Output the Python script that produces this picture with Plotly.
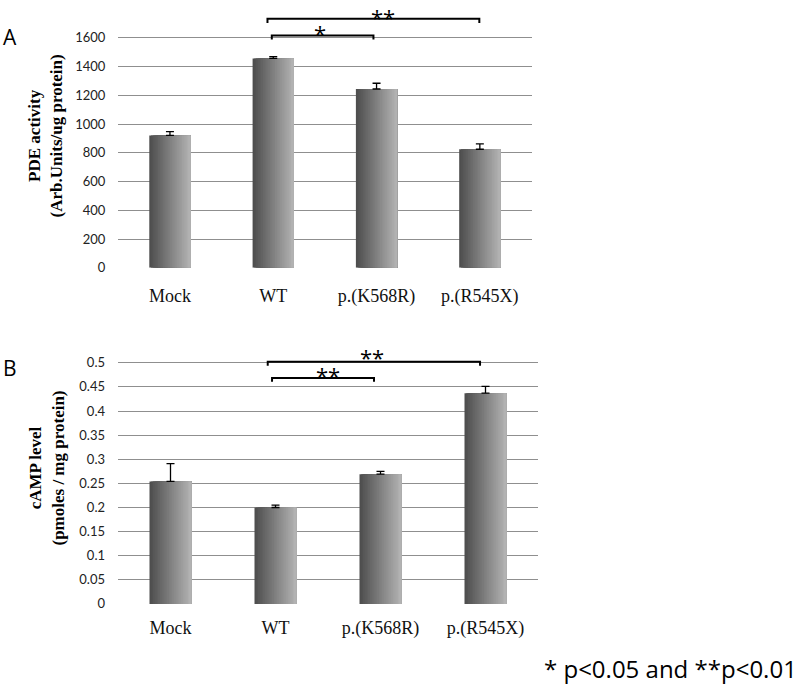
import plotly.graph_objects as go

# ---------------- data ----------------
categories = ["Mock", "WT", "p.(K568R)", "p.(R545X)"]

pde_activity = [921, 1457, 1244, 825]
pde_error = [27, 12, 40, 38]

camp_level = [0.254, 0.200, 0.269, 0.437]
camp_error = [0.037, 0.005, 0.006, 0.014]

pde_ticks = [0, 200, 400, 600, 800, 1000, 1200, 1400, 1600]
camp_ticks = [0, 0.05, 0.1, 0.15, 0.2, 0.25, 0.3, 0.35, 0.4, 0.45, 0.5]

# significance brackets: (from index, to index, label)
pde_sig = [(1, 2, "*"), (1, 3, "**")]
camp_sig = [(1, 2, "**"), (1, 3, "**")]

# ---------------- layout helpers ----------------
W, H = 800, 692


def py(pix):
    return (H - pix) / H


def px(pix):
    return pix / W


fig = go.Figure()

BAR_W = 0.4
N_STRIPES = 24
dark = (78, 78, 78)
light = (178, 178, 178)


def mix(t):
    return "rgb(%d,%d,%d)" % tuple(round(dark[k] + (light[k] - dark[k]) * t) for k in range(3))


def add_bars(values, errors, xa, ya):
    xs = list(range(len(categories)))
    step = BAR_W / N_STRIPES
    for i in range(N_STRIPES):
        start = -BAR_W / 2 + i * step
        fig.add_trace(go.Bar(
            x=xs, y=values, xaxis=xa, yaxis=ya,
            width=BAR_W / 2 - start, offset=start,
            marker=dict(color=mix(i / (N_STRIPES - 1)), line=dict(width=0)),
            showlegend=False, hoverinfo="skip"))
    fig.add_trace(go.Scatter(
        x=xs, y=values, xaxis=xa, yaxis=ya, mode="markers",
        marker=dict(size=1, color="rgba(0,0,0,0)"),
        error_y=dict(type="data", array=errors, arrayminus=[0] * len(errors),
                     symmetric=False, color="black", thickness=1.3, width=4),
        showlegend=False, hoverinfo="skip"))


add_bars(pde_activity, pde_error, "x", "y")
add_bars(camp_level, camp_error, "x2", "y2")

axis_font = dict(family="Lato, Open Sans, sans-serif", size=13, color="#222")
cat_font = dict(family="Liberation Serif, Times New Roman, serif", size=18, color="#111")
grid_col = "#8f8f8f"

common_x = dict(type="linear", range=[-0.5, 3.5], tickvals=list(range(4)),
                ticktext=categories, tickfont=cat_font, showgrid=False,
                zeroline=False, showline=False, ticks="", fixedrange=True)

fig.update_layout(
    width=W, height=H, margin=dict(l=0, r=0, t=0, b=0),
    paper_bgcolor="white", plot_bgcolor="white",
    barmode="overlay", showlegend=False,
    xaxis=dict(common_x, domain=[px(118.3), px(531.5)], anchor="y", ticklabelstandoff=15),
    yaxis=dict(range=[0, 1800], domain=[py(271), py(9.2)], anchor="x",
               tickvals=pde_ticks, tickfont=axis_font, showgrid=True,
               gridcolor=grid_col, gridwidth=1, zeroline=False, showline=False,
               ticks="", ticklabelstandoff=12, fixedrange=True),
    xaxis2=dict(common_x, domain=[px(118), px(538)], anchor="y2", ticklabelstandoff=11),
    yaxis2=dict(range=[0, 0.53], domain=[py(611), py(352.4)], anchor="x2",
                tickvals=camp_ticks, tickformat="", tickfont=axis_font, showgrid=True,
                gridcolor=grid_col, gridwidth=1, zeroline=False, showline=False,
                ticks="", ticklabelstandoff=12, fixedrange=True),
)

star_font = dict(family="Open Sans, sans-serif", size=22, color="black")


def add_brackets(specs, xa, ya, levels, tick, labels_pos, xshift_list):
    for (a, b, lab), lvl, (tref, tl, anc), (xa0, xb0, tx) in zip(specs, levels, labels_pos, xshift_list):
        x0, x1 = a + xa0, b + xb0
        path = "M %f,%f L %f,%f L %f,%f L %f,%f" % (x0, lvl - tick, x0, lvl, x1, lvl, x1, lvl - tick)
        fig.add_shape(type="path", path=path, xref=xa, yref=ya,
                      line=dict(color="black", width=2))
        fig.add_annotation(x=a + tx, y=tl, xref=xa, yref=tref if tref else ya, text=lab,
                           showarrow=False, font=star_font, yanchor=anc, xanchor="center")


# Panel A brackets
add_brackets(pde_sig, "x", "y",
             levels=[1617, 1732], tick=28,
             labels_pos=[(None, 1633, "middle"), ("paper", 1.0, "top")],
             xshift_list=[(-0.014, -0.03, 0.45), (-0.056, -0.005, 1.06)])
# Panel B brackets
add_brackets(camp_sig, "x2", "y2",
             levels=[0.4686, 0.502], tick=0.008,
             labels_pos=[(None, 0.4745, "middle"), (None, 0.5115, "middle")],
             xshift_list=[(-0.033, -0.062, 0.50), (-0.074, -0.052, 0.92)])

# y-axis titles
title_font = dict(family="Liberation Serif, Times New Roman, serif", size=17, color="black")
fig.add_annotation(x=px(45), y=py(138), xref="paper", yref="paper", textangle=-90,
                   text="<b>PDE activity</b><br><b>(Arb.Units/ug protein)</b>",
                   showarrow=False, font=title_font, xanchor="center", yanchor="middle")
fig.add_annotation(x=px(47), y=py(474), xref="paper", yref="paper", textangle=-90,
                   text="<b>cAMP level</b><br><b>(pmoles / mg protein)</b>",
                   showarrow=False, font=title_font, xanchor="center", yanchor="middle")

# panel letters
letter_font = dict(family="Open Sans, sans-serif", size=21, color="black")
fig.add_annotation(x=px(1), y=py(37), xref="paper", yref="paper", text="A",
                   showarrow=False, font=letter_font, xanchor="left", yanchor="middle")
fig.add_annotation(x=px(1), y=py(372), xref="paper", yref="paper", text="B",
                   showarrow=False, font=letter_font, xanchor="left", yanchor="middle")

# footnote
fig.add_annotation(x=px(799), y=py(676), xref="paper", yref="paper",
                   text="* p&lt;0.05 and **p&lt;0.01", showarrow=False,
                   font=dict(family="Open Sans, sans-serif", size=24, color="black"),
                   xanchor="right", yanchor="middle")

fig.write_html("out.html", config={"displayModeBar": False},
               post_script="document.body.style.margin='0';document.body.style.padding='0';")
